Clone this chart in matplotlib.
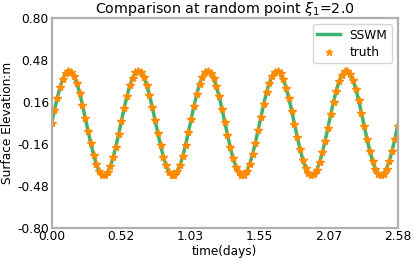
import matplotlib
matplotlib.use("Agg")
import matplotlib.pyplot as plt
import numpy as np

# surface elevation at xi_1 = 2.0, sampled every half hour (62 h)
truth = [0.000, 0.100, 0.194, 0.275, 0.339, 0.381, 0.399, 0.392, 0.360, 0.304,
         0.230, 0.141, 0.042, -0.058, -0.156, -0.243, -0.315, -0.366, -0.395, -0.398,
         -0.376, -0.330, -0.263, -0.180, -0.084, 0.016, 0.116, 0.208, 0.287, 0.347,
         0.386, 0.400, 0.389, 0.352, 0.294, 0.216, 0.125, 0.026, -0.074, -0.170,
         -0.256, -0.324, -0.373, -0.397, -0.396, -0.370, -0.321, -0.251, -0.165, -0.068,
         0.032, 0.131, 0.222, 0.298, 0.355, 0.390, 0.400, 0.384, 0.344, 0.282,
         0.203, 0.110, 0.010, -0.090, -0.185, -0.268, -0.334, -0.378, -0.399, -0.394,
         -0.364, -0.311, -0.238, -0.150, -0.052, 0.048, 0.146, 0.235, 0.308, 0.362,
         0.393, 0.399, 0.380, 0.336, 0.271, 0.188, 0.094, -0.006, -0.106, -0.199,
         -0.280, -0.342, -0.383, -0.400, -0.391, -0.357, -0.300, -0.225, -0.135, -0.036,
         0.065, 0.161, 0.248, 0.318, 0.369, 0.396, 0.398, 0.374, 0.327, 0.259,
         0.174, 0.078, -0.022, -0.122, -0.213, -0.291, -0.350, -0.388, -0.400, -0.387,
         -0.349, -0.289, -0.211, -0.119, -0.020]
sswm = truth
t = np.arange(len(truth)) * 0.5 / 24.0

fig = plt.figure(figsize=(4.15, 2.6), dpi=100)
ax = fig.add_axes([0.1246, 0.1242, 0.8337, 0.8054])

ax.plot(t, sswm, color="#3cb371", lw=2.5, label="SSWM")
ax.plot(t, truth, ls="none", marker="*", color="#ff8c00", ms=6, label="truth")

ax.set_xlim(t[0], t[-1])
ax.set_ylim(-0.8, 0.8)
ax.set_xticks(np.linspace(t[0], t[-1], 6))
ax.set_yticks(np.linspace(-0.8, 0.8, 6))
ax.xaxis.set_major_formatter(matplotlib.ticker.FormatStrFormatter("%.2f"))
ax.yaxis.set_major_formatter(matplotlib.ticker.FormatStrFormatter("%.2f"))
ax.tick_params(length=0, labelsize=8.8, pad=2)
for s in ax.spines.values():
    s.set_color("#b0b0b0")
    s.set_linewidth(1.6)

ax.set_title(r"Comparison at random point $\xi_1$=2.0", fontsize=10.3, pad=3)
ax.set_xlabel("time(days)", fontsize=8.7, labelpad=1)
ax.set_ylabel("Surface Elevation:m", fontsize=8.7, labelpad=2)
ax.legend(loc="upper right", fontsize=8.7, labelspacing=0.35, markerscale=0.8,
          handlelength=1.9, borderpad=0.35)

fig.savefig("out.png", dpi=100)
